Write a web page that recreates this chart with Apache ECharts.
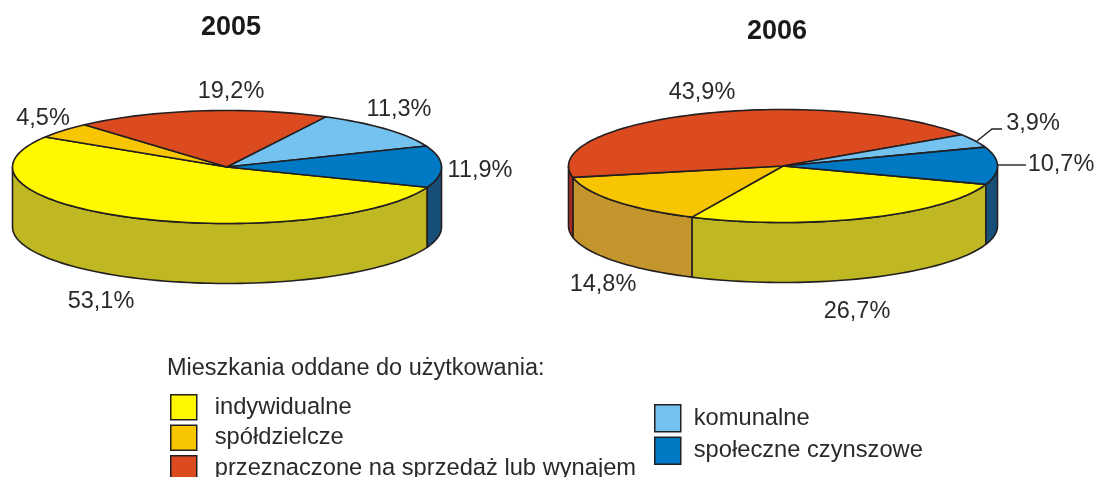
<!DOCTYPE html>
<html><head><meta charset="utf-8">
<style>html,body{margin:0;padding:0;background:#fff}#c{width:1096px;height:477px}</style>
<script src="https://cdn.jsdelivr.net/npm/echarts@6/dist/echarts.min.js"></script>
</head><body><div id="c"></div>
<script>
const categories = ['indywidualne','spółdzielcze','przeznaczone na sprzedaż lub wynajem','komunalne','społeczne czynszowe'];
const years = ['2005','2006'];
const values2005 = [53.1,4.5,19.2,11.3,11.9];
const values2006 = [26.7,14.8,43.9,3.9,10.7];
const topColors = ['#FFF800','#F7C600','#DB4B1F','#74C2F0','#0079C4'];
const sideColors = ['#BFB822','#C4952C','#A82A20','#4F9CC8','#174F78'];
const outline = '#231F20';
const textColor = '#2a2a2a';
const font = 'Liberation Sans, Arial, sans-serif';

// disc geometry per year
const discs = [
  {cx:227, cy:167, rx:214.5, ry:56.5, depth:60, start:21, values:values2005},
  {cx:783, cy:166, rx:214.5, ry:56.5, depth:60, start:19, values:values2006}
];
// label centres relative to each disc centre, by category
const labelOffsets = [
  [[-126,135],[-184,-48],[4,-75],[172,-57],[253,4]],
  [[74,146],[-180,119],[-81,-73],[250,-42],[278,-1]]
];
// leader lines relative to disc centre: only 2006 small slices
const leaders = [
  [null,null,null,null,null],
  [null,null,null,[[194,-25],[209,-37],[219,-37]],[[214,-1],[243,-1]]]
];

function pt(d, deg, dy){
  const a = deg*Math.PI/180;
  return [d.cx + d.rx*Math.cos(a), d.cy + d.ry*Math.sin(a) + (dy||0)];
}
function arc(d, a0, a1, dy){
  const n = Math.max(2, Math.ceil(Math.abs(a1-a0)/2)), out = [];
  for(let i=0;i<=n;i++) out.push(pt(d, a0+(a1-a0)*i/n, dy));
  return out;
}
function sliceAngles(d, c){
  const total = d.values.reduce((s,v)=>s+v,0);
  let sum = 0;
  for(let i=0;i<c;i++) sum += d.values[i];
  return [d.start + sum/total*360, d.start + (sum+d.values[c])/total*360];
}
function renderSlice(c){
  return function(params){
    const y = params.dataIndex, d = discs[y], [a0,a1] = sliceAngles(d,c);
    const children = [];
    [0,360].forEach(function(k){
      const s = Math.max(a0,k), e = Math.min(a1,k+180);
      if(e>s){
        const t = arc(d,s,e,0), b = arc(d,e,s,d.depth);
        children.push({type:'polygon',shape:{points:t.concat(b)},
          style:{fill:sideColors[c],stroke:outline,lineWidth:1.6,lineJoin:'round'}});
      }
    });
    children.push({type:'polygon',shape:{points:[[d.cx,d.cy]].concat(arc(d,a0,a1,0))},
      style:{fill:topColors[c],stroke:outline,lineWidth:1.6,lineJoin:'round'}});
    const l = leaders[y][c];
    if(l){
      children.push({type:'polyline',shape:{points:l.map(p=>[d.cx+p[0],d.cy+p[1]])},
        style:{fill:'none',stroke:outline,lineWidth:1.4}});
    }
    const o = labelOffsets[y][c];
    children.push({type:'text',z2:10,style:{
      text:d.values[c].toFixed(1).replace('.',',')+'%',
      x:d.cx+o[0],y:d.cy+o[1],align:'center',verticalAlign:'middle',
      fill:textColor,font:'23.5px '+font}});
    return {type:'group',children:children};
  };
}

const chart = echarts.init(document.getElementById('c'),null,{renderer:'canvas'});
const legendBase = {orient:'vertical',icon:'rect',itemWidth:26,padding:0,height:110,
  itemStyle:{borderColor:outline,borderWidth:1.5},selectedMode:false};
const legendText = {fontFamily:font,fontSize:23.7,color:textColor};
chart.setOption({
  animation:false,
  backgroundColor:'#fff',
  color:topColors,
  title:[
    {text:years[0],left:231,top:14,padding:0,textAlign:'center',textStyle:{fontFamily:font,fontSize:27,fontWeight:'bold',color:'#1a1a1a'}},
    {text:years[1],left:777,top:18,padding:0,textAlign:'center',textStyle:{fontFamily:font,fontSize:27,fontWeight:'bold',color:'#1a1a1a'}},
    {text:'Mieszkania oddane do użytkowania:',left:167,top:357,padding:0,textStyle:{fontFamily:font,fontSize:23.5,fontWeight:'normal',color:textColor}}
  ],
  legend:[
    Object.assign({},legendBase,{left:170,top:394,itemHeight:25,itemGap:4,
      textStyle:Object.assign({padding:[0,0,0,13]},legendText),data:categories.slice(0,3)}),
    Object.assign({},legendBase,{left:654,top:404,itemHeight:27,itemGap:4,
      textStyle:Object.assign({padding:[0,0,0,8]},legendText),data:categories.slice(3)})
  ],
  series:categories.map(function(name,c){
    return {type:'custom',name:name,coordinateSystem:'none',silent:true,
      itemStyle:{color:topColors[c]},
      renderItem:renderSlice(c),
      data:[values2005[c],values2006[c]]};
  })
});
</script></body></html>
